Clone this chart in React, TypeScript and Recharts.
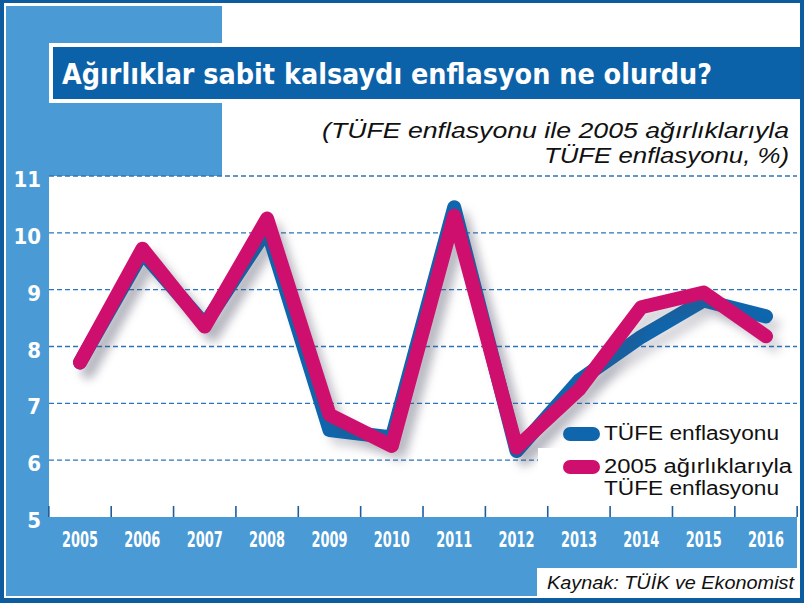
import React from 'react';
import { LineChart, Line, XAxis, YAxis, CartesianGrid, Legend } from 'recharts';

const years = ['2005', '2006', '2007', '2008', '2009', '2010', '2011', '2012', '2013', '2014', '2015', '2016'];
const tufe = [7.72, 9.65, 8.39, 10.06, 6.53, 6.4, 10.45, 6.16, 7.4, 8.17, 8.81, 8.53];
const tufe2005 = [7.72, 9.72, 8.35, 10.25, 6.8, 6.25, 10.3, 6.22, 7.24, 8.69, 8.95, 8.18];
const yTicks = [5, 6, 7, 8, 9, 10, 11];
const gridValues = [6, 7, 8, 9, 10, 11];
const seriesKeys = ['tufe', 'tufe2005'];
const seriesNames = ['TÜFE enflasyonu', '2005 ağırlıklarıyla TÜFE enflasyonu'];
const legendLines = [['TÜFE enflasyonu'], ['2005 ağırlıklarıyla', 'TÜFE enflasyonu']];
const titleText = 'Ağırlıklar sabit kalsaydı enflasyon ne olurdu?';
const subtitleLines = ['(TÜFE enflasyonu ile 2005 ağırlıklarıyla', 'TÜFE enflasyonu, %)'];
const sourceText = 'Kaynak: TÜİK ve Ekonomist';

const data = years.map((y, i) => ({ year: y, tufe: tufe[i], tufe2005: tufe2005[i] }));

const BLUE = '#0f66ad';
const PINK = '#cf0f6d';
const LIGHT = '#4a9ad5';
const DARK = '#0c5c9f';
const TITLEBAR = '#0c62a9';
const GRID = '#2b76ba';
const COND = "'Liberation Sans Narrow', 'DejaVu Sans Condensed', 'Roboto', sans-serif";
const HUMAN = "'Liberation Sans', Arial, sans-serif";

const HALF = 748 / 24;

const XTick = (props: any) => {
  const { x, y, payload, index, visibleTicksCount } = props;
  const last = index === (visibleTicksCount ?? years.length) - 1;
  return (
    <g>
      <line x1={x - HALF} x2={x - HALF} y1={y - 11} y2={y} stroke="#1d5e9b" strokeWidth={1.6} />
      {last && <line x1={x + HALF} x2={x + HALF} y1={y - 11} y2={y} stroke="#1d5e9b" strokeWidth={1.6} />}
      <text x={x} y={y + 30} textAnchor="middle" fill="#fff" fontWeight="bold" fontSize={22}
        fontFamily={COND} textLength={36} lengthAdjust="spacingAndGlyphs">{payload.value}</text>
    </g>
  );
};

const YTick = (props: any) => {
  const { x, y, payload } = props;
  return (
    <text x={x} y={y + 11} textAnchor="end" fill="#fff" fontWeight="bold" fontSize={22} fontFamily={COND}>
      {payload.value}
    </text>
  );
};

const renderLegend = (props: any) => {
  const payload = props.payload || [];
  return (
    <svg width={259} height={90} style={{ display: 'block' }}>
      <rect x={0} y={33} width={259} height={57} fill="#fff" />
      {seriesKeys.map((key, i) => {
        const entry = payload.find((p: any) => p.dataKey === key);
        const color = entry ? entry.color : i === 0 ? BLUE : PINK;
        const top = i === 0 ? 12 : 45;
        return (
          <g key={key}>
            <rect x={25} y={top} width={37} height={14} rx={7} fill={color} />
            {legendLines[i].map((ln, j) => (
              <text key={j} x={66} y={top + 13 + j * 22} fontSize={19.5} fill="#111" fontFamily={HUMAN}
                textLength={i === 1 && j === 0 ? 188 : 175} lengthAdjust="spacingAndGlyphs">{ln}</text>
            ))}
          </g>
        );
      })}
    </svg>
  );
};

const abs = (l: number, t: number, w: number, h: number, bg: string): React.CSSProperties => ({
  position: 'absolute', left: l, top: t, width: w, height: h, background: bg,
});

export default function App() {
  return (
    <div style={{ position: 'absolute', left: 0, top: 0, width: 804, height: 603, background: DARK, overflow: 'hidden' }}>
      <style>{`.recharts-line-curve{filter:drop-shadow(8px 9px 5px rgba(70,70,95,0.22));}`}</style>
      <div style={abs(4, 3, 796, 595, '#fff')} />
      <div style={abs(6, 6, 216, 170, LIGHT)} />
      <div style={abs(6, 6, 43, 590, LIGHT)} />
      <div style={abs(6, 517, 791, 51, LIGHT)} />
      <div style={abs(6, 568, 531, 28, LIGHT)} />
      <div style={abs(49, 43, 751, 60, '#fff')} />
      <div style={abs(53, 47, 747, 52, TITLEBAR)} />
      <div style={{ position: 'absolute', left: 0, top: 0 }}>
        <LineChart width={804} height={603} data={data} margin={{ top: 176, right: 7, bottom: 46, left: 0 }}>
          <CartesianGrid vertical={false} horizontalValues={gridValues} stroke={GRID} strokeDasharray="5 3" strokeWidth={1.4} />
          <XAxis dataKey="year" height={40} padding={{ left: 31, right: 31 }} axisLine={false} tickLine={false}
            tickSize={0} tickMargin={0} interval={0} tick={(p: any) => <XTick {...p} />} />
          <YAxis type="number" domain={[5, 11]} ticks={yTicks} width={49} axisLine={false} tickLine={false}
            tickSize={0} tickMargin={8} interval={0} allowDataOverflow tick={(p: any) => <YTick {...p} />} />
          <Legend layout="vertical" align="center" verticalAlign="middle" content={renderLegend}
            wrapperStyle={{ left: 538, top: 415, width: 259, height: 90, margin: 0, padding: 0 }} />
          <Line type="linear" dataKey="tufe" name={seriesNames[0]} stroke={BLUE} strokeWidth={14}
            strokeLinecap="round" strokeLinejoin="round" dot={false} activeDot={false} isAnimationActive={false} />
          <Line type="linear" dataKey="tufe2005" name={seriesNames[1]} stroke={PINK} strokeWidth={14}
            strokeLinecap="round" strokeLinejoin="round" dot={false} activeDot={false} isAnimationActive={false} />
        </LineChart>
      </div>
      <svg width={804} height={603} style={{ position: 'absolute', left: 0, top: 0, pointerEvents: 'none' }}>
        <text x={62} y={84} fill="#fff" fontWeight="bold" fontSize={29} fontFamily={COND}
          textLength={650} lengthAdjust="spacingAndGlyphs">{titleText}</text>
        <text x={789} y={138} textAnchor="end" fontStyle="italic" fontSize={22} fill="#111" fontFamily={HUMAN}
          textLength={467} lengthAdjust="spacingAndGlyphs">{subtitleLines[0]}</text>
        <text x={789} y={163} textAnchor="end" fontStyle="italic" fontSize={22} fill="#111" fontFamily={HUMAN}
          textLength={245} lengthAdjust="spacingAndGlyphs">{subtitleLines[1]}</text>
        <rect x={537} y={568} width={260} height={28} fill="#fff" />
        <text x={794} y={589} textAnchor="end" fontStyle="italic" fontSize={18} fill="#111" fontFamily={HUMAN}
          textLength={247} lengthAdjust="spacingAndGlyphs">{sourceText}</text>
      </svg>
    </div>
  );
}
